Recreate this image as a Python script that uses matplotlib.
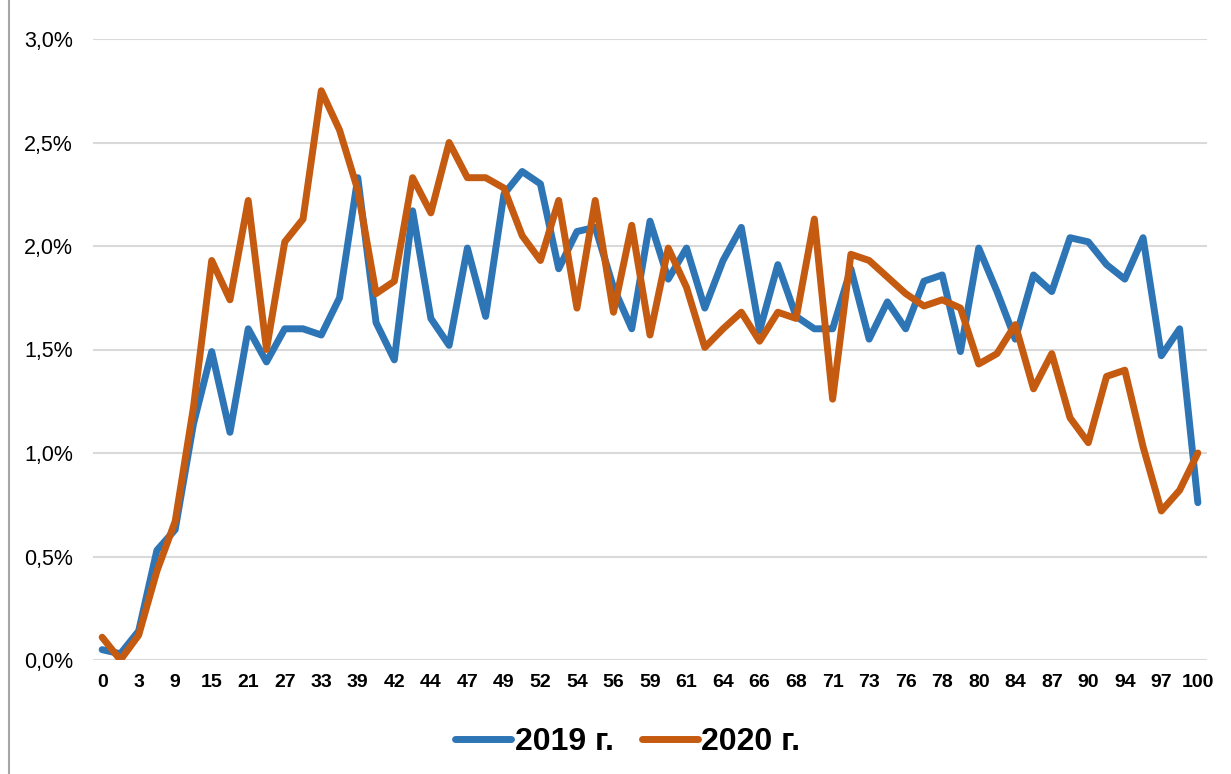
import numpy as np
import matplotlib
matplotlib.use('Agg')
import matplotlib.pyplot as plt
from matplotlib.ticker import FuncFormatter
from matplotlib.lines import Line2D

plt.rcParams['font.family'] = ['Liberation Sans', 'DejaVu Sans']

# every second category is labelled on the axis
tick_labels = ['0', '3', '9', '15', '21', '27', '33', '39', '42', '44', '47',
               '49', '52', '54', '56', '59', '61', '64', '66', '68', '71', '73',
               '76', '78', '80', '84', '87', '90', '94', '97', '100']

share_2019 = [0.05, 0.03, 0.14, 0.53, 0.63, 1.14, 1.49, 1.10, 1.60, 1.44,
              1.60, 1.60, 1.57, 1.75, 2.33, 1.63, 1.45, 2.17, 1.65, 1.52,
              1.99, 1.66, 2.25, 2.36, 2.30, 1.89, 2.07, 2.09, 1.80, 1.60,
              2.12, 1.84, 1.99, 1.70, 1.93, 2.09, 1.59, 1.91, 1.66, 1.60,
              1.60, 1.89, 1.55, 1.73, 1.60, 1.83, 1.86, 1.49, 1.99, 1.78,
              1.55, 1.86, 1.78, 2.04, 2.02, 1.91, 1.84, 2.04, 1.47, 1.60,
              0.76]

share_2020 = [0.11, 0.00, 0.12, 0.43, 0.67, 1.22, 1.93, 1.74, 2.22, 1.50,
              2.02, 2.13, 2.75, 2.56, 2.27, 1.77, 1.83, 2.33, 2.16, 2.50,
              2.33, 2.33, 2.28, 2.05, 1.93, 2.22, 1.70, 2.22, 1.68, 2.10,
              1.57, 1.99, 1.80, 1.51, 1.60, 1.68, 1.54, 1.68, 1.65, 2.13,
              1.26, 1.96, 1.93, 1.85, 1.77, 1.71, 1.74, 1.70, 1.43, 1.48,
              1.62, 1.31, 1.48, 1.17, 1.05, 1.37, 1.40, 1.03, 0.72, 0.82,
              1.00]

x = np.arange(len(share_2019))

fig = plt.figure(figsize=(12.31, 7.74), dpi=100)
ax = fig.add_axes([93 / 1231, 114 / 774, 1114 / 1231, 621 / 774])

ax.plot(x, share_2019, color='#2E75B6', linewidth=5, label='2019 г.',
        solid_joinstyle='round', solid_capstyle='round')
ax.plot(x, share_2020, color='#C55A11', linewidth=5, label='2020 г.',
        solid_joinstyle='round', solid_capstyle='round')

ax.set_xlim(-0.5, len(x) - 0.5)
ax.set_ylim(0, 3.0)
ax.set_yticks(np.arange(0, 3.01, 0.5))
ax.yaxis.set_major_formatter(FuncFormatter(lambda v, p: f'{v:.1f}%'.replace('.', ',')))
ax.set_xticks(x[::2])
ax.set_xticklabels(tick_labels, fontweight='bold', fontsize=14)
ax.tick_params(axis='y', labelsize=15.5, length=0, pad=14.5)
ax.tick_params(axis='x', length=0, pad=10)

ax.grid(axis='y', color='#D9D9D9', linewidth=1.5)
ax.set_axisbelow(True)
for s in ax.spines.values():
    s.set_visible(False)

leg = fig.legend(loc='center', bbox_to_anchor=(628 / 1231, 1 - 742 / 774), ncol=2,
                 frameon=False, prop={'weight': 'bold', 'size': 23},
                 handlelength=1.75, handletextpad=0.1, columnspacing=0.9)
for h in leg.get_lines():
    h.set_linewidth(5)

# chart border on the left edge
fig.add_artist(Line2D([8.5 / 1231, 8.5 / 1231], [0, 1], color='#A6A6A6', linewidth=1.5,
                      transform=fig.transFigure))

fig.savefig('out.png', dpi=100)
